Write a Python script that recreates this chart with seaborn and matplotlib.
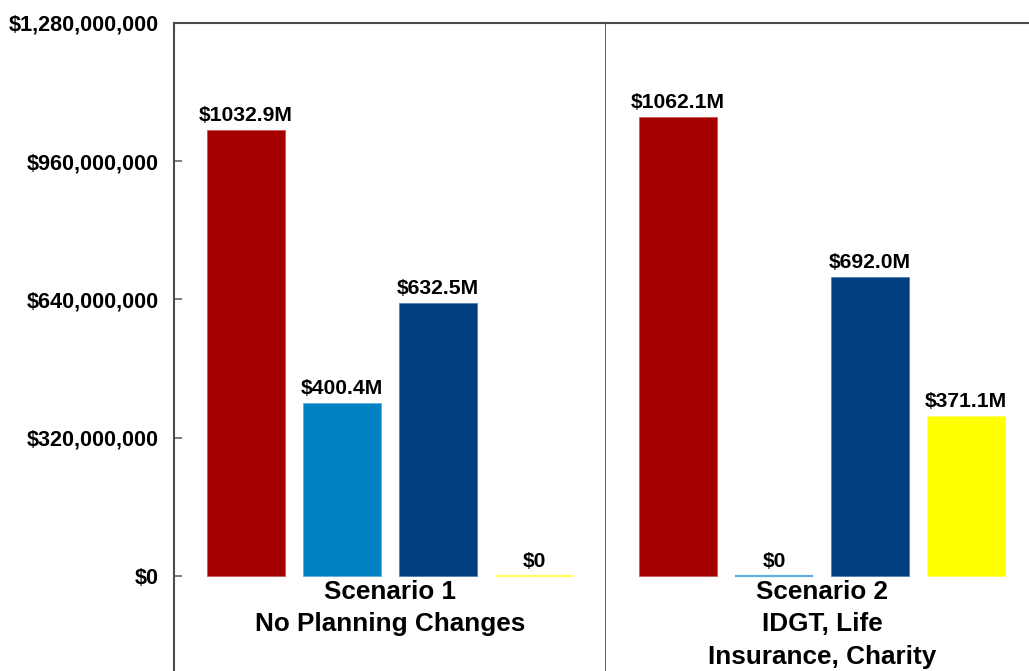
import matplotlib
matplotlib.use("Agg")
import matplotlib.pyplot as plt
import seaborn as sns
import pandas as pd

# Values in dollars for each scenario
items = ["Net to Heirs", "Estate Tax", "Family Wealth", "Charity"]
scenario1_values = [1032.9e6, 400.4e6, 632.5e6, 0.0]
scenario2_values = [1062.1e6, 0.0, 692.0e6, 371.1e6]
scenario_labels = ["Scenario 1\nNo Planning Changes",
                   "Scenario 2\nIDGT, Life\nInsurance, Charity"]
y_ticks = [0, 320e6, 640e6, 960e6, 1280e6]

bar_colors = ["#A50000", "#0081C3", "#003F7F", "#FFFF00"]
edge_colors = ["#C85A5A", "#5DB0E0", "#5080B0", "#FFFF60"]

sns.set_theme(style="white")
plt.rcParams["font.family"] = ["Liberation Sans", "DejaVu Sans"]
plt.rcParams["font.weight"] = "bold"

W, H = 1029, 671
fig = plt.figure(figsize=(W / 100, H / 100), dpi=100)

top_px, left_px, panel_px = 23, 174, 432
ax1 = fig.add_axes([left_px / W, 0, panel_px / W, (H - top_px) / H])
ax2 = fig.add_axes([(left_px + panel_px) / W, 0, panel_px / W, (H - top_px) / H])

spine_col = "#4a4a4a"
y_low = -219.9e6
y_high = 1280e6

for ax, vals, lab in [(ax1, scenario1_values, scenario_labels[0]),
                      (ax2, scenario2_values, scenario_labels[1])]:
    df = pd.DataFrame({"item": items, "value": vals})
    sns.barplot(data=df, x="item", y="value", hue="item", order=items,
                hue_order=items, palette=dict(zip(items, bar_colors)),
                width=0.82, legend=False, ax=ax, saturation=1)
    for patch, ec, v in zip(ax.patches, edge_colors, vals):
        patch.set_edgecolor(ec)
        # empty bars show up as a thin line on the baseline
        patch.set_linewidth(1.6 if v == 0 else 0.6)
    ax.set_xlim(-0.75, 3.75)
    ax.set_ylim(y_low, y_high)
    ax.set_xlabel("")
    ax.set_ylabel("")
    ax.set_xticks([])
    for i, v in enumerate(vals):
        txt = "$0" if v == 0 else f"${v / 1e6:.1f}M"
        ax.annotate(txt, (i, v), xytext=(0, 3.5), textcoords="offset points",
                    ha="center", va="bottom", fontsize=15.2, fontweight="bold",
                    color="black")
    ax.text(1.5, -9e6, lab, ha="center", va="top", fontsize=18.8,
            fontweight="bold", color="black", linespacing=1.45)
    for s in ax.spines.values():
        s.set_color(spine_col)
        s.set_linewidth(1.5)
    ax.spines["bottom"].set_visible(False)

ax1.spines["right"].set_visible(True)
ax1.spines["right"].set_color("#333333")
ax1.spines["right"].set_linewidth(1.8)
ax2.spines["left"].set_visible(False)
ax2.spines["right"].set_visible(False)
ax2.set_yticks([])

ax1.set_yticks(y_ticks)
ax1.set_yticklabels(["$0" if t == 0 else f"${int(t):,}" for t in y_ticks],
                    fontsize=15.6, fontweight="bold", color="black")
ax1.tick_params(axis="y", direction="in", length=6, width=1.2,
                color="#666666", pad=11, left=True, labelcolor="black")

fig.savefig("out.png", dpi=100)
